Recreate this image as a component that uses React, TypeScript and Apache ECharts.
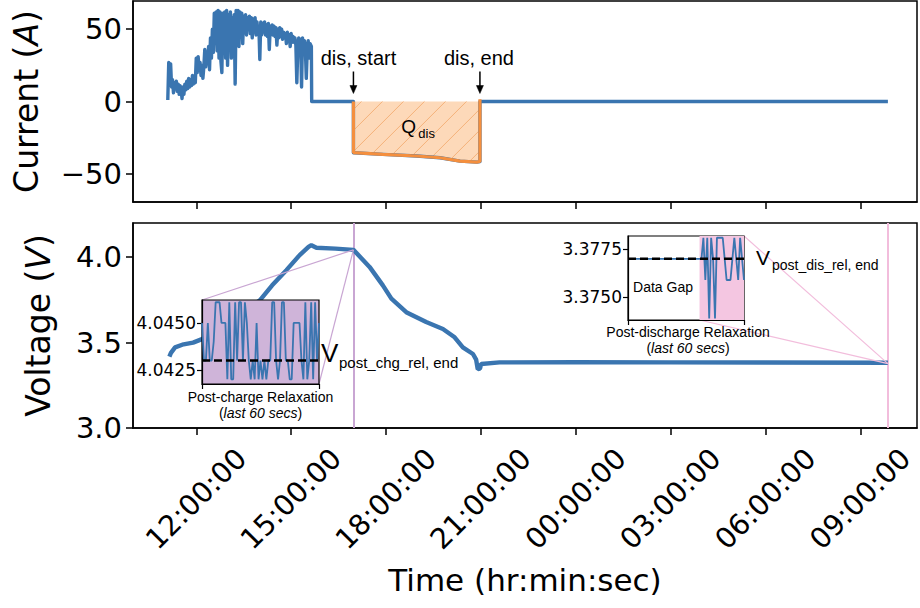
import React, { useEffect, useRef } from "react";
import * as echarts from "echarts";

// ---------------- data ----------------
const xTickValues = [12, 15, 18, 21, 24, 27, 30, 33];
const xTickLabels = ["12:00:00", "15:00:00", "18:00:00", "21:00:00", "00:00:00", "03:00:00", "06:00:00", "09:00:00"];
const currentTicks = [-50, 0, 50];
const voltTicks = [3.0, 3.5, 4.0];
const chgInsetTicks = [4.0425, 4.045];
const disInsetTicks = [3.375, 3.3775];

// charge step current (A), sampled every chgStep hours from chgStart
const chgStart = 11.1;
const chgStep = 0.03;
const chgCurrent = [
  1, 27, 20, 26, 10, 15, 6, 13, 9, 14, 7, 12, 5, 11, 8, 2, 10, 5, 12, 8,
  14, 9, 16, 10, 15, 11, 18, 12, 17, 13, 30, 20, 31, 22, 27, 18, 25, 16, 24, 36,
  24, 34, 26, 38, 22, 44, 30, 50, 34, 61, 40, 62, 35, 63, 30, 62, 28, 20, 61, 38,
  62, 30, 63, 25, 60, 40, 62, 30, 58, 45, 60, 12, 63, 42, 63, 38, 62, 45, 61, 40,
  59, 48, 60, 46, 58, 50, 59, 47, 58, 44, 57, 48, 58, 46, 55, 48, 52, 29, 55, 46,
  54, 48, 55, 46, 53, 45, 54, 36, 52, 47, 53, 46, 52, 45, 51, 39, 50, 44, 51, 45,
  50, 43, 48, 44, 47, 40, 48, 42, 46, 38, 47, 41, 45, 41, 44, 39, 13, 36, 44, 38,
  43, 10, 44, 35, 42, 36, 16, 36, 42, 30, 40,
];
const chgEndT = [15.64, 15.65];
const chgEndI = [38, 0];
const restT = [16.97];
const restI = [0];
// discharge step
const disT = [16.97, 17.9, 18.97, 19.71, 20.34, 20.87, 20.97];
const disI = [-35.4, -36.6, -37.7, -38.9, -41.2, -41.9, -41.5];
const finalT = [20.97, 33.87];
const finalI = [0, 0];

// voltage (V) vs hours
const voltT = [11.15, 11.2, 11.33, 11.6, 11.9, 12.18, 13.1, 14.01, 14.4, 14.85, 15.27, 15.55, 15.64, 15.8, 16.4, 16.97,
  17.48, 17.9, 18.17, 18.64, 19.27, 19.8, 20.17, 20.43, 20.75, 20.85, 20.9, 20.97, 21.01, 21.59, 24, 27, 30, 33.87];
const voltV = [3.418, 3.44, 3.472, 3.49, 3.5, 3.52, 3.63, 3.747, 3.835, 3.924, 4.012, 4.06, 4.07, 4.055, 4.05, 4.043,
  3.943, 3.835, 3.757, 3.678, 3.62, 3.58, 3.531, 3.472, 3.433, 3.4, 3.345, 3.348, 3.375, 3.384, 3.385, 3.384, 3.383, 3.382];

// post-charge relaxation, last 60 s (one sample per second)
const chgRelV = [
  4.045, 4.043, 4.043, 4.045, 4.043, 4.043, 4.044, 4.0461, 4.0461, 4.0461, 4.045, 4.045, 4.045, 4.042, 4.0461, 4.042,
  4.042, 4.0461, 4.043, 4.0461, 4.0461, 4.043, 4.0461, 4.045, 4.043, 4.042, 4.043, 4.042, 4.045, 4.042, 4.043, 4.042,
  4.043, 4.042, 4.043, 4.043, 4.0461, 4.0461, 4.043, 4.042, 4.043, 4.0461, 4.0461, 4.043, 4.043, 4.042, 4.042, 4.045,
  4.045, 4.045, 4.045, 4.043, 4.042, 4.0461, 4.042, 4.043, 4.0461, 4.042, 4.0461, 4.043, 4.045,
];
const chgRelEndV = 4.043;
const chgRelEndT = 16.97;

// post-discharge relaxation, last 60 s (data gap before 37 s)
const disRelSec = [0, 37, 38, 39, 40, 41, 42, 43, 44, 45, 46, 47, 48, 49, 50, 51, 52, 53, 54, 55, 56, 57, 58, 59, 60];
const disRelV = [3.377, 3.377, 3.377, 3.3781, 3.3759, 3.3781, 3.3739, 3.3781, 3.377, 3.3739, 3.3781, 3.3781, 3.3781,
  3.3781, 3.377, 3.3759, 3.3759, 3.3759, 3.377, 3.3781, 3.377, 3.3759, 3.3781, 3.377, 3.3759];
const disRelEndV = 3.377;
const disRelEndT = 33.87;
const disDataStart = 37;
const insetSpan = [0, 60];

// ---------------- styles ----------------
const FONT = "DejaVu Sans";
const ANN = "Liberation Sans";
const BLUE = "#3a75b0";
const ORANGE = "#f48f3e";
const PURPLE_FILL = "#cfb4d9";
const PURPLE_LINE = "#c9a6d3";
const PINK_FILL = "#f4c6e1";
const PINK_LINE = "#f2bddc";

const chgInset = { left: 202, top: 300, width: 117, height: 84 };
const disInset = { left: 628, top: 236, width: 116, height: 84 };

const tickStyle = (vals: number[] | undefined, len = 7) => ({
  show: true,
  customValues: vals,
  length: len,
  lineStyle: { color: "#000", width: 1.5 },
});
const axisLineStyle = { show: true, onZero: false, lineStyle: { color: "#000", width: 1.5 } };

function buildOption() {
  const currentData: number[][] = [];
  chgCurrent.forEach((v, i) => currentData.push([chgStart + i * chgStep, v]));
  chgEndT.forEach((t, i) => currentData.push([t, chgEndI[i]]));
  restT.forEach((t, i) => currentData.push([t, restI[i]]));
  disT.forEach((t, i) => currentData.push([t, disI[i]]));
  finalT.forEach((t, i) => currentData.push([t, finalI[i]]));

  const orangeData: number[][] = [[disT[0], 0]];
  disT.forEach((t, i) => orangeData.push([t, disI[i]]));
  orangeData.push([disT[disT.length - 1], 1.5]);

  const voltData = voltT.map((t, i) => [t, voltV[i]]);
  const chgRelData = chgRelV.map((v, i) => [i, v]);
  const disRelData = disRelSec.map((s, i) => [s, disRelV[i]]);

  const mainX = (gi: number, labels: boolean) => ({
    type: "value",
    gridIndex: gi,
    min: 10,
    max: 34.79,
    axisLine: axisLineStyle,
    splitLine: { show: false },
    axisTick: tickStyle(xTickValues),
    axisLabel: labels
      ? {
          show: true,
          customValues: xTickValues,
          rotate: 45,
          align: "center",
          verticalAlign: "middle",
          margin: 71,
          fontSize: 28.5,
          fontFamily: FONT,
          color: "#000",
          formatter: (v: number) => {
            const k = xTickValues.findIndex((x) => Math.abs(x - v) < 1e-6);
            return k >= 0 ? xTickLabels[k] : "";
          },
        }
      : { show: false },
    name: labels ? "Time (hr:min:sec)" : "",
    nameLocation: "middle",
    nameGap: 136,
    nameTextStyle: { fontSize: 31, fontFamily: FONT, color: "#000" },
  });

  const insetX = (gi: number) => ({
    type: "value",
    gridIndex: gi,
    min: insetSpan[0],
    max: insetSpan[1],
    interval: 60,
    z: 11,
    axisLine: { show: true, onZero: false, lineStyle: { color: "#000", width: 1.2 } },
    splitLine: { show: false },
    axisTick: { show: true, length: 5, lineStyle: { color: "#000", width: 1.2 } },
    axisLabel: { show: false },
  });

  const insetY = (gi: number, min: number, max: number, ticks: number[]) => ({
    type: "value",
    gridIndex: gi,
    min,
    max,
    z: 11,
    axisLine: { show: true, onZero: false, lineStyle: { color: "#000", width: 1.2 } },
    splitLine: { show: false },
    axisTick: { show: true, customValues: ticks, length: 5, lineStyle: { color: "#000", width: 1.2 } },
    axisLabel: {
      show: true,
      customValues: ticks,
      margin: 6,
      fontSize: 17,
      fontFamily: FONT,
      color: "#000",
      formatter: (v: number) => v.toFixed(4),
    },
  });

  const nameRich = {
    n: { fontSize: 33, fontFamily: FONT, color: "#000" },
    i: { fontSize: 33, fontFamily: FONT, color: "#000", fontStyle: "italic" },
  };

  const dashed = (xi: number, v: number) => ({
    type: "line",
    xAxisIndex: xi,
    yAxisIndex: xi,
    data: insetSpan.map((s) => [s, v]),
    showSymbol: false,
    symbol: "none",
    silent: true,
    lineStyle: { color: "#000", width: 2.5, type: [8, 4] },
    z: 14,
  });

  return {
    animation: false,
    backgroundColor: "#fff",
    grid: [
      { left: 133, top: 1, width: 784, height: 201, show: true, borderColor: "#000", borderWidth: 1.5, backgroundColor: "transparent" },
      { left: 133, top: 223, width: 784, height: 205, show: true, borderColor: "#000", borderWidth: 1.5, backgroundColor: "transparent" },
      { ...chgInset, show: true, borderColor: "#000", borderWidth: 1.2, backgroundColor: PURPLE_FILL, z: 10 },
      { ...disInset, show: true, borderColor: "#000", borderWidth: 1.2, backgroundColor: "#fff", z: 10 },
    ],
    xAxis: [mainX(0, false), mainX(1, true), insetX(2), insetX(3)],
    yAxis: [
      {
        type: "value",
        gridIndex: 0,
        min: -69.5,
        max: 69.5,
        axisLine: axisLineStyle,
        splitLine: { show: false },
        axisTick: tickStyle(currentTicks),
        axisLabel: {
          customValues: currentTicks,
          margin: 11,
          fontSize: 29,
          fontFamily: FONT,
          color: "#000",
          formatter: (v: number) => (v < 0 ? "\u2212" + Math.abs(v) : String(v)),
        },
        name: "{n|Current (}{i|A}{n|)}",
        nameLocation: "middle",
        nameRotate: 90,
        nameGap: 90,
        nameTextStyle: { fontSize: 33, fontFamily: FONT, color: "#000", rich: nameRich },
      },
      {
        type: "value",
        gridIndex: 1,
        min: 3.0,
        max: 4.2,
        axisLine: axisLineStyle,
        splitLine: { show: false },
        axisTick: tickStyle(voltTicks),
        axisLabel: {
          customValues: voltTicks,
          margin: 11,
          fontSize: 29,
          fontFamily: FONT,
          color: "#000",
          formatter: (v: number) => v.toFixed(1),
        },
        name: "{n|Voltage (}{i|V}{n|)}",
        nameLocation: "middle",
        nameRotate: 90,
        nameGap: 78,
        nameTextStyle: { fontSize: 33, fontFamily: FONT, color: "#000", rich: nameRich },
      },
      insetY(2, 4.04175, 4.04622, chgInsetTicks),
      insetY(3, 3.37382, 3.37819, disInsetTicks),
    ],
    series: [
      {
        type: "custom",
        xAxisIndex: 0,
        yAxisIndex: 0,
        z: 1,
        silent: true,
        data: [[disT[0], 0]],
        renderItem: (_params: any, api: any) => {
          const p0 = api.coord([disT[0], 0]);
          const pN = api.coord([disT[disT.length - 1], 0]);
          const pts = disT.map((t, i) => api.coord([t, disI[i]]));
          const poly = [p0, ...pts, pN];
          const x0 = p0[0];
          const x1 = pN[0];
          const yt = p0[1];
          const b0 = pts[0];
          const b1 = pts[pts.length - 1];
          const m = (b1[1] - b0[1]) / (b1[0] - b0[0]);
          const children: any[] = [
            { type: "polygon", shape: { points: poly }, style: { fill: "#fdd9b9", stroke: null } },
          ];
          const step = 21;
          const cMin = x0 + yt;
          const cMax = x1 + Math.max(b0[1], b1[1]);
          for (let c = cMin + 8; c < cMax; c += step) {
            const xa = Math.max(x0, (c - b0[1] + m * b0[0]) / (1 + m));
            const xb = Math.min(x1, c - yt);
            if (xb > xa) {
              children.push({
                type: "line",
                shape: { x1: xa, y1: c - xa, x2: xb, y2: c - xb },
                style: { stroke: "#f5b27a", lineWidth: 1 },
              });
            }
          }
          return { type: "group", children };
        },
      },
      {
        type: "line",
        xAxisIndex: 0,
        yAxisIndex: 0,
        data: currentData,
        showSymbol: false,
        symbol: "none",
        lineStyle: { color: BLUE, width: 3.4, join: "round" },
        z: 2,
      },
      {
        type: "line",
        xAxisIndex: 0,
        yAxisIndex: 0,
        data: orangeData,
        showSymbol: false,
        symbol: "none",
        lineStyle: { color: ORANGE, width: 3.2 },
        z: 3,
      },
      {
        type: "line",
        xAxisIndex: 1,
        yAxisIndex: 1,
        data: voltData,
        showSymbol: false,
        symbol: "none",
        lineStyle: { color: BLUE, width: 4.4 },
        z: 3,
        markLine: {
          silent: true,
          z: 2,
          symbol: ["none", "none"],
          label: { show: false },
          data: [
            { xAxis: chgRelEndT, lineStyle: { color: PURPLE_LINE, width: 2, type: "solid" } },
            { xAxis: disRelEndT, lineStyle: { color: PINK_LINE, width: 2, type: "solid" } },
          ],
        },
      },
      {
        type: "line",
        xAxisIndex: 2,
        yAxisIndex: 2,
        data: chgRelData,
        showSymbol: false,
        symbol: "none",
        lineStyle: { color: BLUE, width: 1.8 },
        z: 12,
      },
      dashed(2, chgRelEndV),
      {
        type: "line",
        xAxisIndex: 3,
        yAxisIndex: 3,
        data: disRelData,
        showSymbol: false,
        symbol: "none",
        lineStyle: { color: BLUE, width: 1.8 },
        z: 12,
        markArea: {
          silent: true,
          z: 11,
          itemStyle: { color: PINK_FILL },
          data: [[{ xAxis: disDataStart }, { xAxis: insetSpan[1] }]],
        },
      },
      dashed(3, disRelEndV),
    ],
  };
}

function text(x: number, y: number, t: string, size: number, extra: any = {}) {
  return {
    type: "text",
    x,
    y,
    z: 30,
    silent: true,
    style: {
      text: t,
      fontSize: size,
      fontFamily: ANN,
      fill: "#000",
      textAlign: "center",
      textVerticalAlign: "middle",
      align: "center",
      verticalAlign: "middle",
      ...extra,
    },
  };
}

function arrow(x: number, yTip: number) {
  return [
    { type: "line", z: 30, silent: true, shape: { x1: x, y1: yTip - 22, x2: x, y2: yTip - 5 }, style: { stroke: "#000", lineWidth: 1.5 } },
    {
      type: "polygon",
      z: 30,
      silent: true,
      shape: { points: [[x - 3.5, yTip - 8], [x + 3.5, yTip - 8], [x, yTip]] },
      style: { fill: "#000", stroke: "#000", lineWidth: 0.5 },
    },
  ];
}

export default function App() {
  const ref = useRef<HTMLDivElement>(null);
  useEffect(() => {
    if (!ref.current) return;
    const chart = echarts.init(ref.current, null, { renderer: "svg" });
    chart.setOption(buildOption() as any);

    const pStart = chart.convertToPixel({ gridIndex: 0 } as any, [disT[0], 0]) as number[];
    const pEnd = chart.convertToPixel({ gridIndex: 0 } as any, [disT[disT.length - 1], 0]) as number[];
    const pChg = chart.convertToPixel({ gridIndex: 1 } as any, [chgRelEndT, chgRelEndV]) as number[];
    const pDis = chart.convertToPixel({ gridIndex: 1 } as any, [disRelEndT, disRelEndV]) as number[];
    const pPink = chart.convertToPixel({ gridIndex: 3 } as any, [disDataStart, 3.37382]) as number[];

    const conn = (x1: number, y1: number, x2: number, y2: number, color: string) => ({
      type: "line",
      z: 5,
      silent: true,
      shape: { x1, y1, x2, y2 },
      style: { stroke: color, lineWidth: 1.2 },
    });

    const italicRich = { i: { fontStyle: "italic", fontSize: 14, fontFamily: ANN, fill: "#000" } };

    const elements: any[] = [
      conn(chgInset.left, chgInset.top, pChg[0], pChg[1], PURPLE_LINE),
      conn(chgInset.left + chgInset.width, chgInset.top + chgInset.height, pChg[0], pChg[1], PURPLE_LINE),
      conn(disInset.left + disInset.width, disInset.top, pDis[0], pDis[1], PINK_LINE),
      conn(pPink[0], disInset.top + disInset.height, pDis[0], pDis[1], PINK_LINE),
      ...arrow(pStart[0], pStart[1] - 8),
      ...arrow(pEnd[0], pEnd[1] - 8),
      text(pStart[0] + 5, pStart[1] - 44, "dis, start", 20),
      text(pEnd[0] - 1, pEnd[1] - 44, "dis, end", 20),
      text((pStart[0] + pEnd[0]) / 2 - 8, pStart[1] + 25, "Q", 19),
      text((pStart[0] + pEnd[0]) / 2 + 10, pStart[1] + 32, "dis", 13),
      text(321, 353, "V", 26, { textAlign: "left", align: "left" }),
      text(339, 362, "post_chg_rel, end", 15, { textAlign: "left", align: "left" }),
      text(756, 257, "V", 21, { textAlign: "left", align: "left" }),
      text(772, 265, "post_dis_rel, end", 14, { textAlign: "left", align: "left" }),
      text(chgInset.left + chgInset.width / 2, 397, "Post-charge Relaxation", 14),
      text(chgInset.left + chgInset.width / 2, 413, "({i|last 60 secs})", 14, { rich: italicRich }),
      text(disInset.left + disInset.width / 2 + 2, 332, "Post-discharge Relaxation", 14),
      text(disInset.left + disInset.width / 2 + 2, 348, "({i|last 60 secs})", 14, { rich: italicRich }),
      text(663, 287, "Data Gap", 14),
    ];
    chart.setOption({ graphic: { elements } } as any);

    return () => chart.dispose();
  }, []);
  return (
    <div
      ref={ref}
      style={{ position: "fixed", left: 0, top: 0, width: 920, height: 608, background: "#fff" }}
    />
  );
}
